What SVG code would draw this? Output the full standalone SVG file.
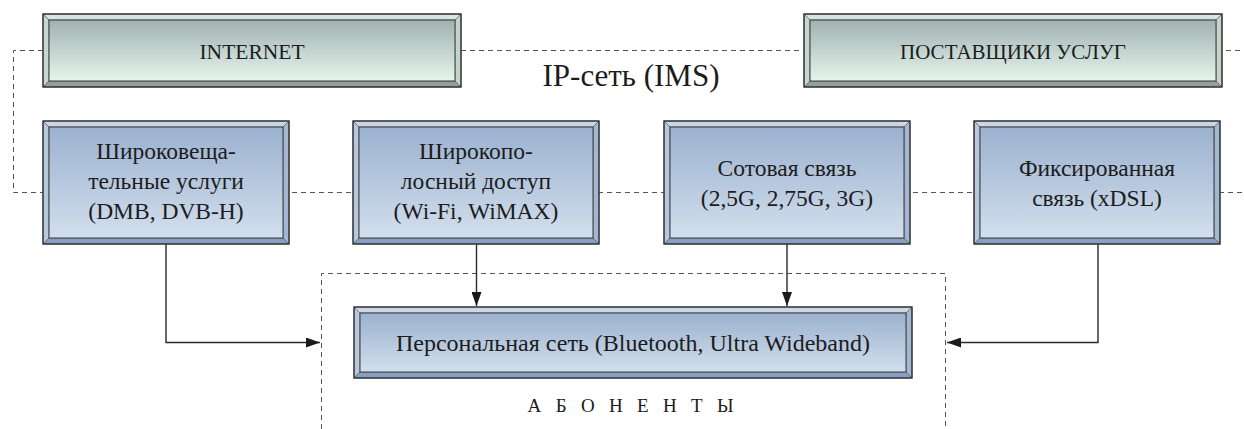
<svg xmlns="http://www.w3.org/2000/svg" width="1244" height="429" viewBox="0 0 1244 429">
  <defs>
    <linearGradient id="faceBlue" x1="0" y1="0" x2="0" y2="1">
      <stop offset="0" stop-color="#9bb1cf"/>
      <stop offset="1" stop-color="#d2dfed"/>
    </linearGradient>
    <linearGradient id="faceGreen" x1="0" y1="0" x2="0" y2="1">
      <stop offset="0" stop-color="#a0b2b1"/>
      <stop offset="1" stop-color="#e6f4ec"/>
    </linearGradient>
    <marker id="arrow" viewBox="0 0 14 10" refX="14" refY="5" markerWidth="14" markerHeight="10" markerUnits="userSpaceOnUse" orient="auto">
      <path d="M0,0 L14,5 L0,10 Z" fill="#1a1a1a"/>
    </marker>
  </defs>
  <style>
    .frame { fill: none; stroke: #333; stroke-width: 1.4; }
    .inner { stroke: #3a3a3a; stroke-width: 1; }
    .bv { stroke: #555; stroke-width: 0.6; stroke-linejoin: round; }
    .blue .inner { fill: url(#faceBlue); }
    .blue .t { fill: #c9d7e7; }
    .blue .l { fill: #b7c8de; }
    .blue .r { fill: #a2b7d3; }
    .blue .b { fill: #86a0c3; }
    .green .inner { fill: url(#faceGreen); }
    .green .t { fill: #d7e5df; }
    .green .l { fill: #c6d6d0; }
    .green .r { fill: #c3d4cd; }
    .green .b { fill: #8fa29f; }
    .lbl { font-family: "Liberation Serif", "Times New Roman", serif; fill: #1c1c1c; text-anchor: middle; }
    .dash { fill: none; stroke: #555; stroke-width: 1; stroke-dasharray: 5 4; }
    .wire { fill: none; stroke: #2a2a2a; stroke-width: 1.4; }
  </style>

  <rect width="1244" height="429" fill="#fff"/>

  <!-- connectors: dashed IP network bus, subscriber boundary, solid feeds -->
  <g id="connectors">
    <path class="dash" d="M43,50.5 H13.5 V192.5 H1244"/>
    <path class="dash" d="M461,50.5 H1244"/>
    <path class="dash" d="M321.5,429 V273.5 H945.5 V429"/>
    <path class="wire" d="M166,244 V342.5 H320" marker-end="url(#arrow)"/>
    <path class="wire" d="M1098,244 V342.5 H947" marker-end="url(#arrow)"/>
    <path class="wire" d="M476.5,244 V306" marker-end="url(#arrow)"/>
    <path class="wire" d="M787,244 V306" marker-end="url(#arrow)"/>
  </g>

  <!-- network label -->
  <text class="lbl" x="631" y="86" font-size="31">IP-сеть (IMS)</text>

  <!-- top row: x=43..461, 804..1222, y=14..87, bevel 6 -->
  <g id="internet" class="green">
    <polygon class="bv t" points="43,14 461,14 455,20 49,20"/>
    <polygon class="bv l" points="43,14 49,20 49,81 43,87"/>
    <polygon class="bv r" points="461,14 461,87 455,81 455,20"/>
    <polygon class="bv b" points="43,87 49,81 455,81 461,87"/>
    <rect class="inner" x="49" y="20" width="406" height="61"/>
    <rect class="frame" x="43" y="14" width="418" height="73"/>
    <text class="lbl" x="252" y="59" font-size="21.5">INTERNET</text>
  </g>

  <g id="providers" class="green">
    <polygon class="bv t" points="804,14 1222,14 1216,20 810,20"/>
    <polygon class="bv l" points="804,14 810,20 810,81 804,87"/>
    <polygon class="bv r" points="1222,14 1222,87 1216,81 1216,20"/>
    <polygon class="bv b" points="804,87 810,81 1216,81 1222,87"/>
    <rect class="inner" x="810" y="20" width="406" height="61"/>
    <rect class="frame" x="804" y="14" width="418" height="73"/>
    <text class="lbl" x="1013" y="59" font-size="21">ПОСТАВЩИКИ УСЛУГ</text>
  </g>

  <!-- access networks: y=121..244, width 246 -->
  <g id="broadcast" class="blue">
    <polygon class="bv t" points="43,121 289,121 283,127 49,127"/>
    <polygon class="bv l" points="43,121 49,127 49,238 43,244"/>
    <polygon class="bv r" points="289,121 289,244 283,238 283,127"/>
    <polygon class="bv b" points="43,244 49,238 283,238 289,244"/>
    <rect class="inner" x="49" y="127" width="234" height="111"/>
    <rect class="frame" x="43" y="121" width="246" height="123"/>
    <text class="lbl" font-size="23.5"><tspan x="166" y="159">Широковеща-</tspan><tspan x="166" y="189">тельные услуги</tspan><tspan x="166" y="219">(DMB, DVB-H)</tspan></text>
  </g>

  <g id="broadband" class="blue">
    <polygon class="bv t" points="353,121 599,121 593,127 359,127"/>
    <polygon class="bv l" points="353,121 359,127 359,238 353,244"/>
    <polygon class="bv r" points="599,121 599,244 593,238 593,127"/>
    <polygon class="bv b" points="353,244 359,238 593,238 599,244"/>
    <rect class="inner" x="359" y="127" width="234" height="111"/>
    <rect class="frame" x="353" y="121" width="246" height="123"/>
    <text class="lbl" font-size="23.5"><tspan x="476" y="159">Широкопо-</tspan><tspan x="476" y="189">лосный доступ</tspan><tspan x="476" y="219">(Wi-Fi, WiMAX)</tspan></text>
  </g>

  <g id="cellular" class="blue">
    <polygon class="bv t" points="664,121 910,121 904,127 670,127"/>
    <polygon class="bv l" points="664,121 670,127 670,238 664,244"/>
    <polygon class="bv r" points="910,121 910,244 904,238 904,127"/>
    <polygon class="bv b" points="664,244 670,238 904,238 910,244"/>
    <rect class="inner" x="670" y="127" width="234" height="111"/>
    <rect class="frame" x="664" y="121" width="246" height="123"/>
    <text class="lbl" font-size="23.5"><tspan x="787" y="176">Сотовая связь</tspan><tspan x="787" y="206">(2,5G, 2,75G, 3G)</tspan></text>
  </g>

  <g id="fixed" class="blue">
    <polygon class="bv t" points="974,121 1220,121 1214,127 980,127"/>
    <polygon class="bv l" points="974,121 980,127 980,238 974,244"/>
    <polygon class="bv r" points="1220,121 1220,244 1214,238 1214,127"/>
    <polygon class="bv b" points="974,244 980,238 1214,238 1220,244"/>
    <rect class="inner" x="980" y="127" width="234" height="111"/>
    <rect class="frame" x="974" y="121" width="246" height="123"/>
    <text class="lbl" font-size="23.5"><tspan x="1097" y="176">Фиксированная</tspan><tspan x="1097" y="206">связь (xDSL)</tspan></text>
  </g>

  <!-- subscriber side -->
  <g id="personal" class="blue">
    <polygon class="bv t" points="354,307 912,307 906,313 360,313"/>
    <polygon class="bv l" points="354,307 360,313 360,372 354,378"/>
    <polygon class="bv r" points="912,307 912,378 906,372 906,313"/>
    <polygon class="bv b" points="354,378 360,372 906,372 912,378"/>
    <rect class="inner" x="360" y="313" width="546" height="59"/>
    <rect class="frame" x="354" y="307" width="558" height="71"/>
    <text class="lbl" x="633" y="351" font-size="24">Персональная сеть (Bluetooth, Ultra Wideband)</text>
  </g>

  <g id="subscribers">
    <text class="lbl" x="633" y="412" font-size="19" letter-spacing="4.8">А Б О Н Е Н Т Ы</text>
  </g>
</svg>
